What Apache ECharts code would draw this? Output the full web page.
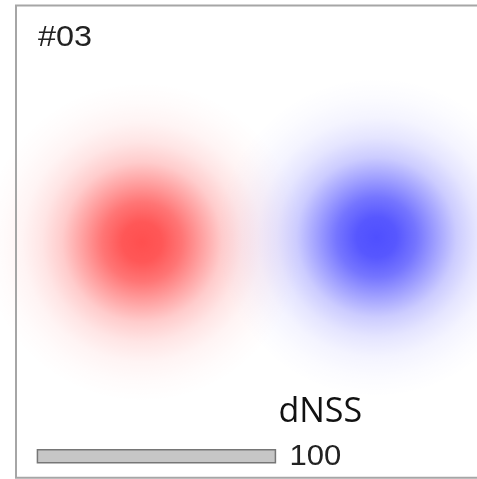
<!DOCTYPE html>
<html>
<head>
<meta charset="utf-8">
<script src="https://cdn.jsdelivr.net/npm/echarts@6/dist/echarts.min.js"></script>
<style>
  html, body { margin: 0; padding: 0; background: #fff; overflow: hidden; }
  #chart { width: 477px; height: 479px; }
</style>
</head>
<body>
<div id="chart"></div>
<script>
// Panel label and spot positions (same units as the scale bar)
const panelLabel = '#03';
const spotNames = ['red', 'blue'];
const spotX = [44, 142.5];
const spotY = [90, 92];
// Scale bar: length in axis units, and its caption
const scaleBarLength = [100];
const scaleBarTitle = 'dNSS';

// Radial falloff of a spot, from centre (0) to edge (1)
const falloff = [
  [0.000, 0.69], [0.125, 0.66], [0.250, 0.54], [0.375, 0.37],
  [0.500, 0.20], [0.625, 0.10], [0.750, 0.045], [0.875, 0.015],
  [1.000, 0.0]
];
const spotRgb = { red: '255,0,0', blue: '0,0,255' };
const spotRadius = 160;

const chart = echarts.init(document.getElementById('chart'), null, { renderer: 'canvas' });

const frameColor = '#a6a6a6';
const option = {
  animation: false,
  backgroundColor: '#ffffff',
  grid: { left: 16, top: 5.5, right: 0, bottom: 1.3, show: false },
  xAxis: { type: 'value', min: -9, max: 184.7, show: false },
  yAxis: { type: 'value', min: -9, max: 189.4, show: false },
  graphic: [
    {
      type: 'polyline', silent: true, z: 10,
      shape: { points: [[478, 5.5], [16, 5.5], [16, 477.7], [478, 477.7]] },
      style: { stroke: frameColor, lineWidth: 2, fill: null }
    },
    {
      type: 'text', x: 38, y: 23, scaleX: 1.08,
      style: {
        text: panelLabel, font: '30px "Liberation Sans", Arial, sans-serif',
        fill: '#222', verticalAlign: 'top'
      }
    }
  ],
  series: [
    {
      // Soft spots: a radial gradient centred on each point, painted in a
      // rectangle trimmed to the drawing area
      type: 'custom',
      silent: true,
      clip: false,
      data: spotNames.map((n, i) => [spotX[i], spotY[i], i]),
      renderItem: function (params, api) {
        const c = api.coord([api.value(0), api.value(1)]);
        const name = spotNames[api.value(2)];
        const w = api.getWidth(), h = api.getHeight();
        const x0 = Math.max(0, c[0] - spotRadius), x1 = Math.min(w, c[0] + spotRadius);
        const y0 = Math.max(0, c[1] - spotRadius), y1 = Math.min(h, c[1] + spotRadius);
        const grad = new echarts.graphic.RadialGradient(c[0], c[1], spotRadius,
          falloff.map(s => ({ offset: s[0], color: 'rgba(' + spotRgb[name] + ',' + s[1] + ')' })),
          true);
        return {
          type: 'rect',
          shape: { x: x0, y: y0, width: x1 - x0, height: y1 - y0 },
          style: { fill: grad }
        };
      }
    },
    {
      type: 'custom',
      silent: true,
      clip: false,
      data: [[0, scaleBarLength[0], 0]],
      renderItem: function (params, api) {
        const a = api.coord([api.value(0), api.value(2)]);
        const b = api.coord([api.value(1), api.value(2)]);
        return {
          type: 'group',
          children: [
            {
              type: 'rect',
              shape: { x: a[0], y: a[1] - 6.5, width: b[0] - a[0], height: 13 },
              style: { fill: '#c6c6c6', stroke: '#767676', lineWidth: 1.5 }
            },
            {
              type: 'text',
              x: b[0] + 14, y: a[1] + 1, scaleX: 1.07,
              style: {
                x: 0, y: 0,
                text: String(api.value(1)),
                font: '29px "Liberation Sans", Arial, sans-serif',
                fill: '#222', verticalAlign: 'middle', align: 'left'
              }
            },
            {
              type: 'text',
              x: b[0] + 3, y: a[1] - 27,
              style: {
                x: 0, y: 0,
                text: scaleBarTitle,
                font: '34px "Open Sans", "Noto Sans", sans-serif',
                fill: '#111', verticalAlign: 'bottom', align: 'left'
              }
            }
          ]
        };
      }
    }
  ]
};
chart.setOption(option);
</script>
</body>
</html>
